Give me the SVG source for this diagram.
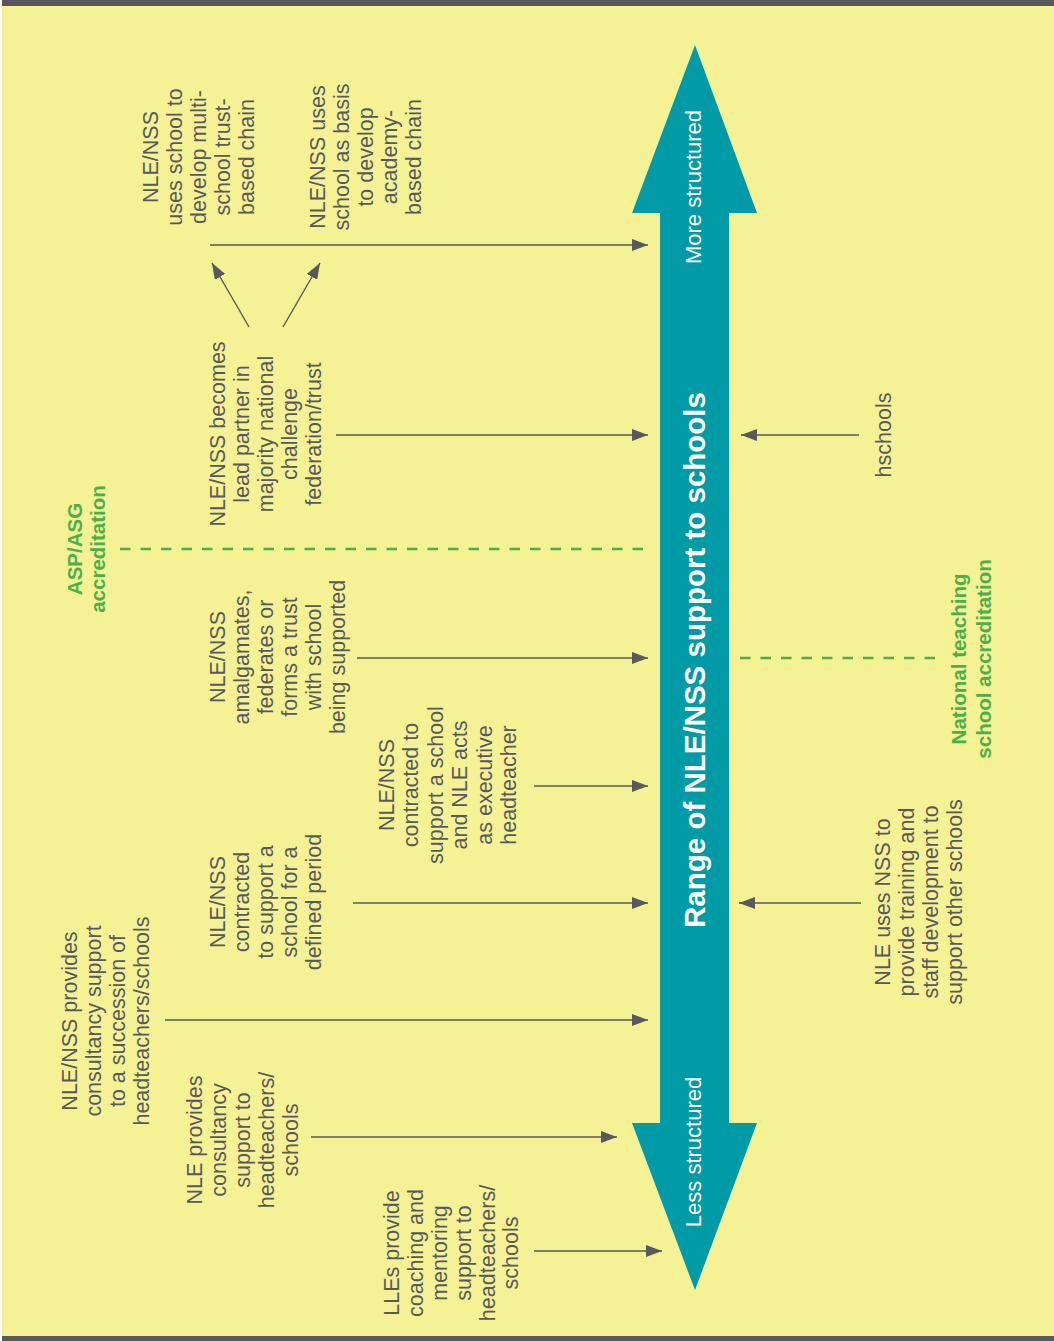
<svg xmlns="http://www.w3.org/2000/svg" width="1054" height="1341" viewBox="0 0 1054 1341">
<defs>
<style>
.t{font-family:"Liberation Sans",Arial,sans-serif;font-size:21.5px;fill:#58595B;text-anchor:middle}
.g{font-family:"Liberation Sans",Arial,sans-serif;font-size:20.5px;font-weight:bold;fill:#4DAF4A;text-anchor:middle}
.w{font-family:"Liberation Sans",Arial,sans-serif;font-size:22px;fill:#FFFFFF;text-anchor:middle}
.wt{font-family:"Liberation Sans",Arial,sans-serif;font-size:29.5px;font-weight:bold;fill:#FFFFFF;text-anchor:middle}
.c{stroke:#58595B;stroke-width:1.4;fill:none;marker-end:url(#ah)}
.d{stroke:#4DAF4A;stroke-width:2.5;fill:none;stroke-dasharray:10.5 10}
</style>
<marker id="ah" markerUnits="userSpaceOnUse" markerWidth="16" markerHeight="12" refX="16" refY="6" orient="auto">
<path d="M0,0 L16,6 L0,12 Z" fill="#58595B"/>
</marker>
</defs>
<rect x="0" y="0" width="1054" height="1341" fill="#FFFFFF"/>
<rect x="2" y="0" width="1052" height="1341" fill="#F5F195"/>
<rect x="2" y="0" width="1052" height="6" fill="#58595B"/>
<rect x="2" y="1336" width="1052" height="5" fill="#58595B"/>

<g id="main-arrow">
<polygon points="695,45 757,213 729,213 729,1123 757,1123 695,1290 632,1123 660,1123 660,213 632,213" fill="#009BA6"/>
<g transform="translate(0,187) rotate(-90)"><text class="w" x="0" y="701">More structured</text></g>
<g transform="translate(0,1152) rotate(-90)"><text class="w" x="0" y="701">Less structured</text></g>
<g transform="translate(0,660) rotate(-90)"><text class="wt" x="0" y="705">Range of NLE/NSS support to schools</text></g>
</g>

<g id="connectors">
<line class="c" x1="210" y1="245" x2="648" y2="245"/>
<line class="c" x1="249" y1="327" x2="212" y2="263"/>
<line class="c" x1="283" y1="327" x2="320" y2="263"/>
<line class="c" x1="336" y1="435" x2="648" y2="435"/>
<line class="c" x1="357" y1="658" x2="648" y2="658"/>
<line class="c" x1="534" y1="786" x2="648" y2="786"/>
<line class="c" x1="353" y1="903" x2="648" y2="903"/>
<line class="c" x1="165" y1="1020" x2="648" y2="1020"/>
<line class="c" x1="311" y1="1137" x2="617" y2="1137"/>
<line class="c" x1="534" y1="1251" x2="662" y2="1251"/>
<line class="c" x1="859" y1="435" x2="741" y2="435"/>
<line class="c" x1="861" y1="903" x2="739" y2="903"/>
<line class="d" x1="120" y1="549" x2="652" y2="549"/>
<line class="d" x1="740" y1="658" x2="936" y2="658"/>
</g>

<g id="n-multitrust" transform="translate(0,157) rotate(-90)">
<text class="t" x="0" y="158">NLE/NSS</text>
<text class="t" x="0" y="182">uses school to</text>
<text class="t" x="0" y="206">develop multi-</text>
<text class="t" x="0" y="230">school trust-</text>
<text class="t" x="0" y="254">based chain</text>
</g>
<g id="n-academy" transform="translate(0,157) rotate(-90)">
<text class="t" x="0" y="325">NLE/NSS uses</text>
<text class="t" x="0" y="349">school as basis</text>
<text class="t" x="0" y="373">to develop</text>
<text class="t" x="0" y="397">academy-</text>
<text class="t" x="0" y="421">based chain</text>
</g>
<g id="n-leadpartner" transform="translate(0,434) rotate(-90)">
<text class="t" x="0" y="225">NLE/NSS becomes</text>
<text class="t" x="0" y="249">lead partner in</text>
<text class="t" x="0" y="273">majority national</text>
<text class="t" x="0" y="297">challenge</text>
<text class="t" x="0" y="321">federation/trust</text>
</g>
<g id="n-amalgamates" transform="translate(0,657) rotate(-90)">
<text class="t" x="0" y="225">NLE/NSS</text>
<text class="t" x="0" y="249">amalgamates,</text>
<text class="t" x="0" y="273">federates or</text>
<text class="t" x="0" y="297">forms a trust</text>
<text class="t" x="0" y="321">with school</text>
<text class="t" x="0" y="345">being supported</text>
</g>
<g id="n-executive" transform="translate(0,785) rotate(-90)">
<text class="t" x="0" y="394">NLE/NSS</text>
<text class="t" x="0" y="418">contracted to</text>
<text class="t" x="0" y="443">support a school</text>
<text class="t" x="0" y="467">and NLE acts</text>
<text class="t" x="0" y="492">as executive</text>
<text class="t" x="0" y="516">headteacher</text>
</g>
<g id="n-defined" transform="translate(0,902) rotate(-90)">
<text class="t" x="0" y="225">NLE/NSS</text>
<text class="t" x="0" y="249">contracted</text>
<text class="t" x="0" y="273">to support a</text>
<text class="t" x="0" y="297">school for a</text>
<text class="t" x="0" y="321">defined period</text>
</g>
<g id="n-succession" transform="translate(0,1021) rotate(-90)">
<text class="t" x="0" y="77">NLE/NSS provides</text>
<text class="t" x="0" y="101">consultancy support</text>
<text class="t" x="0" y="125">to a succession of</text>
<text class="t" x="0" y="149">headteachers/schools</text>
</g>
<g id="n-consultancy" transform="translate(0,1140) rotate(-90)">
<text class="t" x="0" y="202">NLE provides</text>
<text class="t" x="0" y="226">consultancy</text>
<text class="t" x="0" y="250">support to</text>
<text class="t" x="0" y="274">headteachers/</text>
<text class="t" x="0" y="298">schools</text>
</g>
<g id="n-lles" transform="translate(0,1253) rotate(-90)">
<text class="t" x="0" y="399">LLEs provide</text>
<text class="t" x="0" y="423">coaching and</text>
<text class="t" x="0" y="447">mentoring</text>
<text class="t" x="0" y="471">support to</text>
<text class="t" x="0" y="495">headteachers/</text>
<text class="t" x="0" y="518">schools</text>
</g>
<g id="n-hschools" transform="translate(0,435) rotate(-90)">
<text class="t" x="0" y="891">hschools</text>
</g>
<g id="n-training" transform="translate(0,902) rotate(-90)">
<text class="t" x="0" y="890">NLE uses NSS to</text>
<text class="t" x="0" y="914">provide training and</text>
<text class="t" x="0" y="938">staff development to</text>
<text class="t" x="0" y="962">support other schools</text>
</g>
<g id="n-asp" transform="translate(0,549) rotate(-90)">
<text class="g" x="0" y="82">ASP/ASG</text>
<text class="g" x="0" y="105">accreditation</text>
</g>
<g id="n-national" transform="translate(0,659) rotate(-90)">
<text class="g" x="0" y="966">National teaching</text>
<text class="g" x="0" y="991">school accreditation</text>
</g>
</svg>
